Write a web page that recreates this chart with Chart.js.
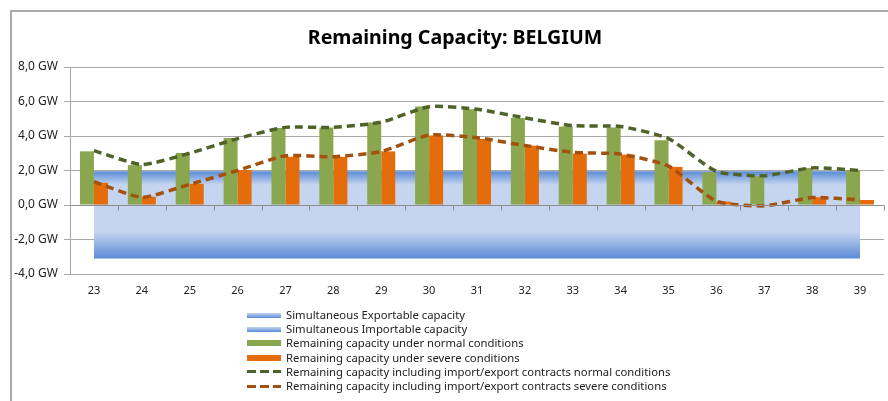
<!DOCTYPE html>
<html>
<head>
<meta charset="utf-8">
<script src="https://cdn.jsdelivr.net/npm/chart.js@4.4.1/dist/chart.umd.min.js"></script>
<style>
  html, body { margin: 0; padding: 0; background: #fff; }
  #wrap { position: relative; width: 888px; height: 401px; overflow: hidden; font-family: "Noto Sans", sans-serif; }
  #frame { position: absolute; left: 10px; top: 10px; width: 900px; height: 400px; border-top: 2px solid #a9a9a9; border-left: 2px solid #a9a9a9; }
  #title { position: absolute; left: 0; width: 910px; top: 23px; text-align: center; font-weight: bold; font-size: 19.6px; color: #000; }
  #myChart { position: absolute; left: 0; top: 0; }
  #legend { position: absolute; left: 247px; top: 308px; font-size: 11.3px; color: #222; line-height: 14.2px; }
  .row { display: flex; align-items: center; height: 14.2px; }
  .sw { width: 34px; margin-right: 5px; flex: none; }
</style>
</head>
<body>
<div id="wrap">
  <div id="frame"></div>
  <canvas id="myChart" width="888" height="401"></canvas>
  <div id="title">Remaining Capacity: BELGIUM</div>
  <div id="legend"></div>
</div>
<script>
const weeks = ['23','24','25','26','27','28','29','30','31','32','33','34','35','36','37','38','39'];
const exportCap = [1.95,1.95,1.95,1.95,1.95,1.95,1.95,1.95,1.95,1.95,1.95,1.95,1.95,1.95,1.95,1.95,1.95];
const importCap = [-3.1,-3.1,-3.1,-3.1,-3.1,-3.1,-3.1,-3.1,-3.1,-3.1,-3.1,-3.1,-3.1,-3.1,-3.1,-3.1,-3.1];
const normalRC = [3.11,2.31,3.02,3.88,4.46,4.5,4.78,5.71,5.55,5.04,4.55,4.5,3.75,1.9,1.67,2.15,2.02];
const severeRC = [1.29,0.48,1.23,2.02,2.79,2.79,3.11,4.03,3.83,3.44,2.98,2.92,2.21,0.2,0,0.45,0.29];
const normalContracts = [3.15,2.35,3.0,3.85,4.5,4.5,4.8,5.7,5.55,5.05,4.6,4.55,3.85,1.95,1.7,2.15,2.0];
const severeContracts = [1.35,0.45,1.2,2.0,2.85,2.8,3.1,4.05,3.9,3.45,3.05,2.95,2.25,0.22,-0.05,0.43,0.3];
const yTicks = [8,6,4,2,0,-2,-4];

const ctx = document.getElementById('myChart');
const dark = '#5a8bd6', light = '#c5d4ef';

function bandGradient(context, top) {
  const chart = context.chart;
  const y = chart.scales.y;
  if (!y || !chart.chartArea) return light;
  const vals = top ? exportCap : importCap;
  const p0 = y.getPixelForValue(0);
  const p1 = y.getPixelForValue(vals[0]);
  if (!isFinite(p0) || !isFinite(p1)) return light;
  const g = chart.ctx.createLinearGradient(0, p1, 0, p0);
  if (top) {
    g.addColorStop(0, dark);
    g.addColorStop(0.4, light);
    g.addColorStop(1, light);
  } else {
    g.addColorStop(0, dark);
    g.addColorStop(0.5, light);
    g.addColorStop(1, light);
  }
  return g;
}

const zeroAxis = {
  id: 'zeroAxis',
  afterDatasetsDraw(chart) {
    const c = chart.ctx, a = chart.chartArea, x = chart.scales.x, y = chart.scales.y;
    const y0 = Math.round(y.getPixelForValue(0)) + 0.5;
    const step = (x.getPixelForValue(1) - x.getPixelForValue(0));
    c.save();
    c.strokeStyle = '#8e8e8e';
    c.lineWidth = 1;
    c.beginPath();
    c.moveTo(a.left, y0);
    c.lineTo(a.right, y0);
    for (let i = 1; i <= weeks.length; i++) {
      const px = Math.round(x.getPixelForValue(i - 1) + step / 2) + 0.5;
      c.moveTo(px, y0);
      c.lineTo(px, y0 + 5);
    }
    c.stroke();
    c.restore();
  }
};

const chartData = {
  type: 'bar',
  data: {
    labels: weeks,
    datasets: [
      { type: 'line', label: 'Simultaneous Exportable capacity', data: exportCap, fill: 'origin',
        backgroundColor: c2 => bandGradient(c2, true), borderWidth: 0, pointRadius: 0, order: 3 },
      { type: 'line', label: 'Simultaneous Importable capacity', data: importCap, fill: 'origin',
        backgroundColor: c2 => bandGradient(c2, false), borderWidth: 0, pointRadius: 0, order: 3 },
      { label: 'Remaining capacity under normal conditions', data: normalRC, backgroundColor: '#8aa64e',
        categoryPercentage: 0.585, barPercentage: 1, order: 2 },
      { label: 'Remaining capacity under severe conditions', data: severeRC, backgroundColor: '#e46c0a',
        categoryPercentage: 0.585, barPercentage: 1, order: 2 },
      { type: 'line', label: 'Remaining capacity including import/export contracts normal conditions', data: normalContracts,
        borderColor: '#4f6228', borderWidth: 3.5, borderDash: [8, 5], pointRadius: 0, tension: 0.2, fill: false, order: 1 },
      { type: 'line', label: 'Remaining capacity including import/export contracts severe conditions', data: severeContracts,
        borderColor: '#a4500e', borderWidth: 3.5, borderDash: [8, 5], pointRadius: 0, tension: 0.2, fill: false, order: 1 }
    ]
  },
  options: {
    responsive: false,
    animation: false,
    layout: { padding: { left: 10, right: 4, top: 67, bottom: 103 } },
    plugins: { legend: { display: false }, tooltip: { enabled: false } },
    scales: {
      x: {
        grid: { display: false, drawTicks: false },
        border: { display: false },
        ticks: { padding: 10, color: '#222', font: { family: 'Noto Sans', size: 11 } },
        afterFit(s) { s.height = 24; }
      },
      y: {
        min: -4, max: 8,
        grid: { color: '#a8a8a8', tickLength: 6 },
        border: { color: '#a8a8a8' },
        afterBuildTicks(s) { s.ticks = yTicks.map(v => ({ value: v })); },
        ticks: {
          padding: 6, color: '#222', font: { family: 'Noto Sans', size: 12 },
          callback: v => v.toFixed(1).replace('.', ',') + ' GW'
        },
        afterFit(s) { s.width = 60; }
      }
    }
  },
  plugins: [zeroAxis]
};

let mychart = new Chart(ctx, chartData);

// legend, vertical list like the original
const swatches = [
  'height:5px;background:linear-gradient(#c5d4ef,#5a8bd6);',
  'height:5px;background:linear-gradient(#c5d4ef,#5a8bd6);',
  'height:6px;background:#8aa64e;',
  'height:6px;background:#e46c0a;',
  'height:3px;background:repeating-linear-gradient(90deg,#4f6228 0 9px,transparent 9px 13px);',
  'height:3px;background:repeating-linear-gradient(90deg,#a4500e 0 9px,transparent 9px 13px);'
];
const legend = document.getElementById('legend');
chartData.data.datasets.forEach((d, i) => {
  const row = document.createElement('div');
  row.className = 'row';
  row.innerHTML = '<div class="sw" style="' + swatches[i] + '"></div><span>' + d.label + '</span>';
  legend.appendChild(row);
});
</script>
</body>
</html>
